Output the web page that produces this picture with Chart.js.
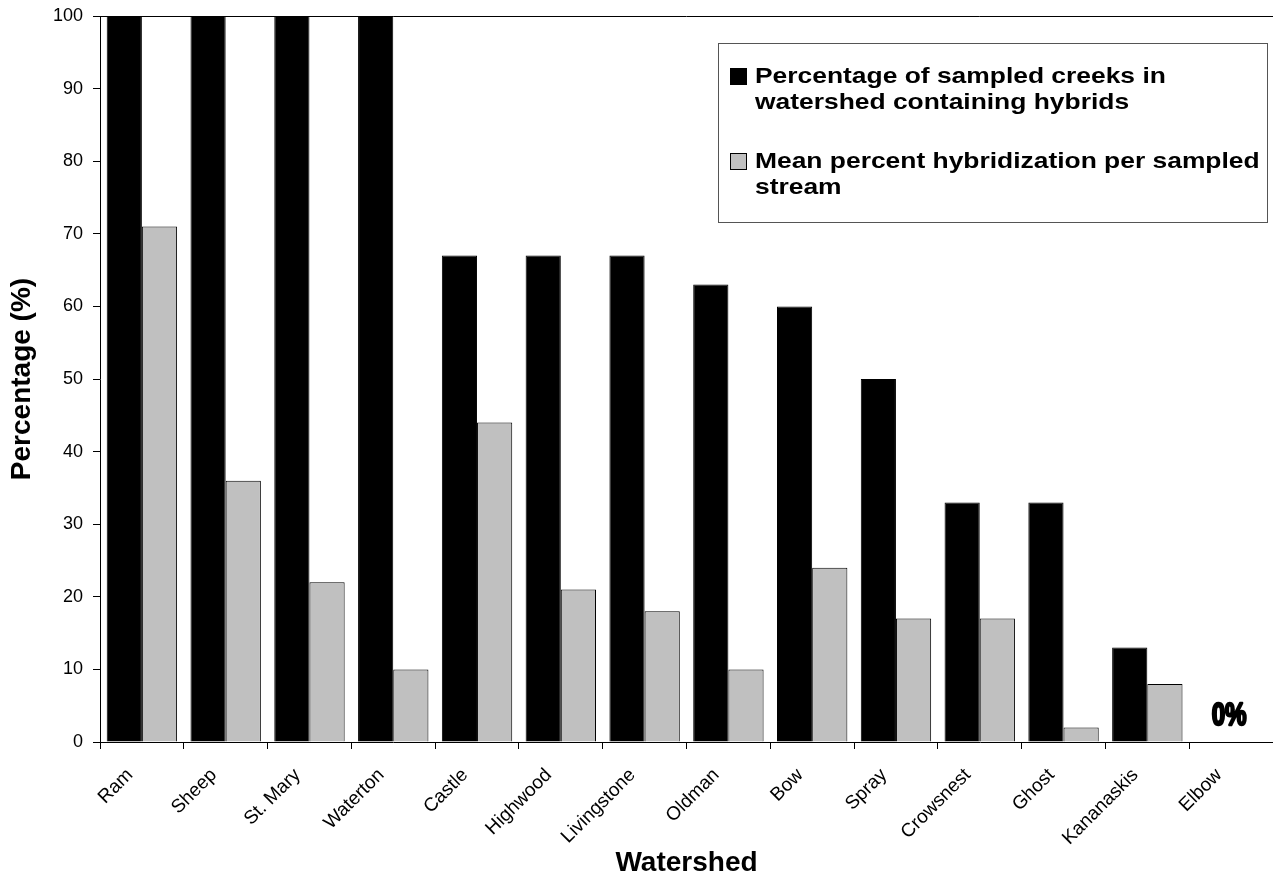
<!DOCTYPE html>
<html>
<head>
<meta charset="utf-8">
<script src="https://cdn.jsdelivr.net/npm/chart.js"></script>
<style>
  html, body { margin: 0; padding: 0; background: #fff; }
  #wrap { width: 1273px; height: 890px; }
</style>
</head>
<body>
<div id="wrap"><canvas id="chart"></canvas></div>
<script>
"use strict";

// data
var watersheds = ["Ram", "Sheep", "St. Mary", "Waterton", "Castle", "Highwood", "Livingstone",
  "Oldman", "Bow", "Spray", "Crowsnest", "Ghost", "Kananaskis", "Elbow"];
var creeksWithHybrids = [100, 100, 100, 100, 67, 67, 67, 63, 60, 50, 33, 33, 13, 0];
var meanHybridization = [71, 36, 22, 10, 44, 21, 18, 10, 24, 17, 17, 2, 8, 0];
var yTicks = [0, 10, 20, 30, 40, 50, 60, 70, 80, 90, 100];
var zeroNote = { category: "Elbow", text: "0%" };

var FONT = "Arial, 'Liberation Sans', sans-serif";

/*-- top frame line, "0%" note and boxed legend --*/
var extras = {
  id: 'extras',
  afterDraw: function (chart) {
    var ctx = chart.ctx;
    var area = chart.chartArea;
    var xs = chart.scales.x, ys = chart.scales.y;

    ctx.save();
    ctx.strokeStyle = '#000';
    ctx.lineWidth = 1;
    ctx.beginPath();
    ctx.moveTo(area.left, area.top + 0.5);
    ctx.lineTo(area.right, area.top + 0.5);
    ctx.stroke();

    // 0% note above the empty category
    var nx = xs.getPixelForValue(watersheds.indexOf(zeroNote.category)) - 2;
    var ny = ys.getPixelForValue(0) - 17;
    ctx.save();
    ctx.translate(nx, ny);
    ctx.scale(0.78, 1);
    ctx.font = "bold 31px " + FONT;
    ctx.textAlign = 'center';
    ctx.textBaseline = 'alphabetic';
    ctx.fillStyle = '#000';
    ctx.strokeStyle = '#000';
    ctx.lineWidth = 2.4;
    ctx.lineJoin = 'round';
    ctx.strokeText(zeroNote.text, 0, 0);
    ctx.fillText(zeroNote.text, 0, 0);
    ctx.restore();

    // legend box
    var bx = 718, by = 43, bw = 549, bh = 179;
    ctx.fillStyle = '#fff';
    ctx.fillRect(bx, by, bw, bh);
    ctx.strokeStyle = '#555';
    ctx.lineWidth = 1;
    ctx.strokeRect(bx + 0.5, by + 0.5, bw, bh);

    var sx = 1.2;
    ctx.font = "bold 22px " + FONT;
    ctx.textAlign = 'left';
    ctx.textBaseline = 'alphabetic';
    var baselines = [83, 168];
    chart.data.datasets.forEach(function (ds, i) {
      var words = ds.label.split(' ');
      var lines = [], cur = '';
      words.forEach(function (w) {
        var t = cur ? cur + ' ' + w : w;
        if (ctx.measureText(t).width * sx > 508 && cur) { lines.push(cur); cur = w; }
        else cur = t;
      });
      lines.push(cur);
      var b0 = baselines[i];
      ctx.fillStyle = ds.backgroundColor;
      ctx.fillRect(730, b0 - 15, 17, 17);
      ctx.strokeStyle = '#000';
      ctx.strokeRect(730.5, b0 - 14.5, 16, 16);
      ctx.fillStyle = '#000';
      lines.forEach(function (ln, k) {
        ctx.save();
        ctx.translate(755, b0 + k * 26);
        ctx.scale(sx, 1);
        ctx.fillText(ln, 0, 0);
        ctx.restore();
      });
    });
    ctx.restore();
  }
};

new Chart(document.getElementById("chart").getContext("2d"), {
  type: 'bar',
  data: {
    labels: watersheds,
    datasets: [{
      label: "Percentage of sampled creeks in watershed containing hybrids",
      data: creeksWithHybrids,
      backgroundColor: '#000000',
      borderColor: '#000000',
      borderWidth: 1,
      categoryPercentage: 0.84,
      barPercentage: 1.0
    }, {
      label: "Mean percent hybridization per sampled stream",
      data: meanHybridization,
      backgroundColor: '#c0c0c0',
      borderColor: '#000000',
      borderWidth: 1,
      categoryPercentage: 0.84,
      barPercentage: 1.0
    }]
  },
  options: {
    responsive: true,
    maintainAspectRatio: false,
    animation: false,
    layout: { padding: { top: 16, right: 0, left: 0, bottom: 0 } },
    plugins: {
      legend: { display: false },
      tooltip: { enabled: false }
    },
    scales: {
      x: {
        grid: { display: true, drawOnChartArea: false, drawTicks: true, tickLength: 7, color: '#000', offset: true },
        border: { display: true, color: '#000', width: 1 },
        ticks: {
          color: '#000',
          font: { family: FONT, size: 19 },
          maxRotation: 45,
          minRotation: 45,
          autoSkip: false,
          padding: 15,
          labelOffset: -12
        },
        title: {
          display: true,
          text: 'Watershed',
          color: '#000',
          font: { family: FONT, size: 28, weight: 'bold' },
          padding: { top: 0, bottom: 10 }
        },
        afterFit: function (scale) {
          scale.height = 148;
          scale.paddingLeft = 0;
          scale.paddingRight = 0;
        }
      },
      y: {
        min: 0,
        max: 100,
        afterBuildTicks: function (scale) {
          scale.ticks = yTicks.map(function (v) { return { value: v }; });
        },
        grid: { display: true, drawOnChartArea: false, drawTicks: true, tickLength: 7, color: '#000' },
        border: { display: true, color: '#000', width: 1 },
        ticks: {
          color: '#000',
          font: { family: FONT, size: 18 },
          padding: 10
        },
        title: {
          display: true,
          text: 'Percentage (%)',
          color: '#000',
          font: { family: FONT, size: 28, weight: 'bold' },
          padding: { top: 5, bottom: 0 }
        },
        afterFit: function (scale) {
          scale.width = 100;
          scale.paddingTop = 0;
          scale.paddingBottom = 0;
        }
      }
    }
  },
  plugins: [extras]
});
</script>
</body>
</html>
